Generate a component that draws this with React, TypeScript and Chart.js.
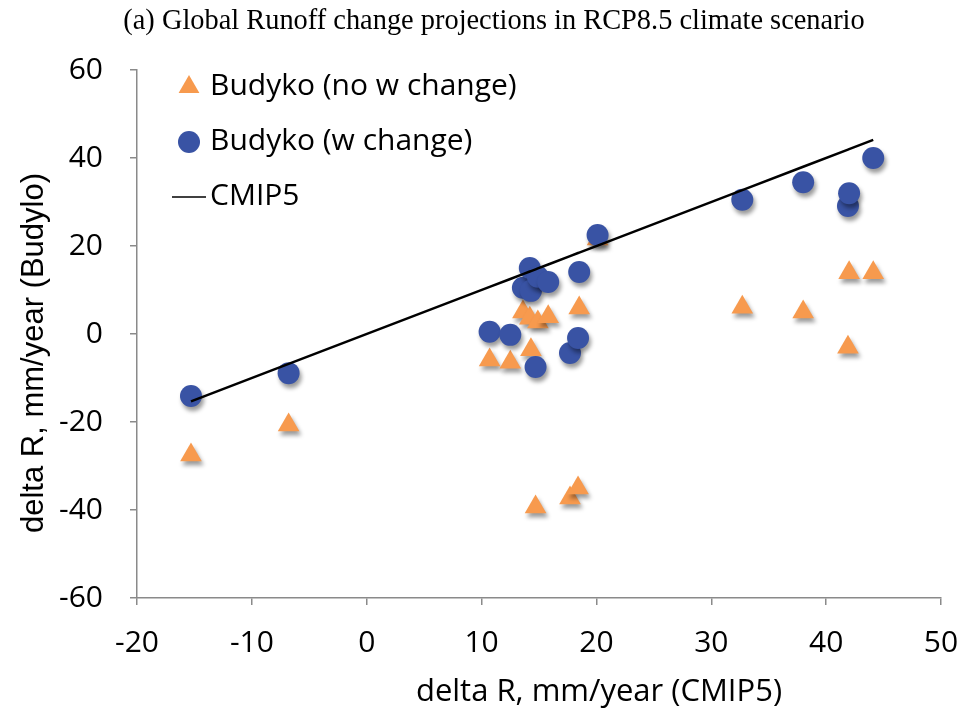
import React, { useEffect, useRef } from 'react';
import { Chart, registerables } from 'chart.js';

Chart.register(...registerables);

// ---- data ----
const cmip5 = [-15.3, -6.8, 10.7, 12.5, 13.6, 14.2, 14.3, 14.7, 14.9, 15.8, 17.7, 18.4, 18.5, 20.1, 32.7, 38.0, 41.9, 42.0, 44.1];
const budykoNoW = [-27.5, -20.7, -5.9, -6.4, 5.0, 3.6, -3.6, -39.3, 2.7, 3.9, -37.3, -35.0, 5.9, 21.6, 6.1, 5.0, -3.0, 13.9, 13.9];
const budykoW = [-14.1, -8.9, 0.5, -0.2, 10.5, 15.0, 9.8, -7.5, 13.0, 11.8, -4.3, -0.9, 14.1, 22.5, 30.5, 34.5, 29.1, 32.0, 40.0];

const seriesLabels = ['Budyko (no w change)', 'Budyko (w change)', 'CMIP5'];
const titleText = '(a) Global Runoff change projections in RCP8.5 climate scenario';
const xTitle = 'delta R, mm/year (CMIP5)';
const yTitle = 'delta R, mm/year (Budylo)';
const xTicks = { min: -20, max: 50, step: 10 };
const yTicks = { min: -60, max: 60, step: 20 };

const ORANGE = '#F79A4E';
const BLUE = '#3953A4';
const AXIS = '#8A8A8A';

const shadowPlugin = {
  id: 'markerShadow',
  beforeDatasetDraw(chart: any, args: any) {
    const ds = chart.data.datasets[args.index];
    if (!ds.shadow) return;
    const ctx = chart.ctx;
    ctx.save();
    ctx.shadowColor = 'rgba(0,0,0,0.4)';
    ctx.shadowBlur = 4;
    ctx.shadowOffsetX = 2;
    ctx.shadowOffsetY = 4;
  },
  afterDatasetDraw(chart: any, args: any) {
    const ds = chart.data.datasets[args.index];
    if (!ds.shadow) return;
    chart.ctx.restore();
  },
};

const annotatePlugin = {
  id: 'annotate',
  afterDraw(chart: any) {
    const ctx = chart.ctx;
    const a = chart.chartArea;
    ctx.save();
    // legend
    const textX = a.left + 73;
    const markX = a.left + 52;
    const rows = [a.top + 17, a.top + 72, a.top + 127];
    ctx.font = '30px "Open Sans"';
    ctx.textBaseline = 'middle';
    ctx.textAlign = 'left';
    ctx.fillStyle = '#000';
    {
      const r = 12;
      const cy = rows[0];
      ctx.beginPath();
      ctx.moveTo(markX, cy - r);
      ctx.lineTo(markX + r * Math.sin(Math.PI * 2 / 3), cy - r * Math.cos(Math.PI * 2 / 3));
      ctx.lineTo(markX - r * Math.sin(Math.PI * 2 / 3), cy - r * Math.cos(Math.PI * 2 / 3));
      ctx.closePath();
      ctx.fillStyle = ORANGE;
      ctx.fill();
    }
    {
      ctx.beginPath();
      ctx.arc(markX, rows[1], 11, 0, Math.PI * 2);
      ctx.fillStyle = BLUE;
      ctx.fill();
    }
    {
      ctx.beginPath();
      ctx.moveTo(a.left + 35, rows[2]);
      ctx.lineTo(a.left + 69, rows[2]);
      ctx.strokeStyle = '#000';
      ctx.lineWidth = 1.5;
      ctx.stroke();
    }
    ctx.fillStyle = '#000';
    seriesLabels.forEach((t, i) => ctx.fillText(t, textX, rows[i] - 1));

    // axis titles
    ctx.font = '31px "Open Sans"';
    ctx.textAlign = 'center';
    ctx.textBaseline = 'alphabetic';
    ctx.fillText(xTitle, a.left + (a.right - a.left) * 0.5746, 701);

    ctx.save();
    ctx.translate(43, a.top + (a.bottom - a.top) * 0.536);
    ctx.rotate(-Math.PI / 2);
    ctx.font = '31px "Liberation Sans"';
    ctx.fillText(yTitle, 0, 0);
    ctx.restore();
    ctx.restore();
  },
};

export default function App() {
  const ref = useRef<HTMLCanvasElement | null>(null);

  useEffect(() => {
    if (!ref.current) return;
    const lineVals = [...cmip5].sort((p, q) => p - q);
    const chart = new Chart(ref.current, {
      type: 'scatter',
      data: {
        datasets: [
          {
            label: seriesLabels[2],
            data: lineVals.map((v) => ({ x: v, y: v })),
            showLine: true,
            borderColor: '#000',
            borderWidth: 2.5,
            pointRadius: 0,
            order: 0,
          } as any,
          {
            label: seriesLabels[1],
            data: cmip5.map((x, i) => ({ x, y: budykoW[i] })),
            pointStyle: 'circle',
            pointRadius: 11,
            backgroundColor: BLUE,
            borderWidth: 0,
            order: 1,
            shadow: true,
          } as any,
          {
            label: seriesLabels[0],
            data: cmip5.map((x, i) => ({ x, y: budykoNoW[i] })),
            pointStyle: 'triangle',
            pointRadius: 12.5,
            backgroundColor: ORANGE,
            borderWidth: 0,
            order: 2,
            shadow: true,
          } as any,
        ],
      },
      options: {
        animation: false,
        responsive: true,
        maintainAspectRatio: false,
        layout: { padding: { left: 47, right: 19, top: 0, bottom: 0 } },
        plugins: {
          legend: { display: false },
          tooltip: { enabled: false },
          title: {
            display: true,
            text: titleText,
            color: '#000',
            font: { family: '"Liberation Serif"', size: 28.4, weight: 'normal' },
            padding: { top: 5, bottom: 30.9 },
          },
        },
        scales: {
          x: {
            type: 'linear',
            min: xTicks.min,
            max: xTicks.max,
            ticks: {
              stepSize: xTicks.step,
              color: '#000',
              font: { family: '"Open Sans"', size: 30 },
              padding: 20,
            },
            grid: { drawOnChartArea: false, drawTicks: true, tickLength: 7, color: AXIS, lineWidth: 1.5 },
            border: { color: AXIS, width: 1.5 },
            afterFit: (s: any) => {
              s.height = 111;
              s.paddingLeft = 0;
              s.paddingRight = 0;
            },
          },
          y: {
            type: 'linear',
            min: yTicks.min,
            max: yTicks.max,
            ticks: {
              stepSize: yTicks.step,
              color: '#000',
              font: { family: '"Open Sans"', size: 30 },
              padding: 27,
            },
            grid: { drawOnChartArea: false, drawTicks: true, tickLength: 7, color: AXIS, lineWidth: 1.5 },
            border: { color: AXIS, width: 1.5 },
            afterFit: (s: any) => {
              s.width = 90;
              s.paddingTop = 0;
              s.paddingBottom = 0;
            },
          },
        },
      },
      plugins: [shadowPlugin, annotatePlugin],
    });
    return () => chart.destroy();
  }, []);

  return (
    <div style={{ position: 'fixed', left: 0, top: 0, width: 960, height: 709, background: '#fff' }}>
      <canvas ref={ref} />
    </div>
  );
}
